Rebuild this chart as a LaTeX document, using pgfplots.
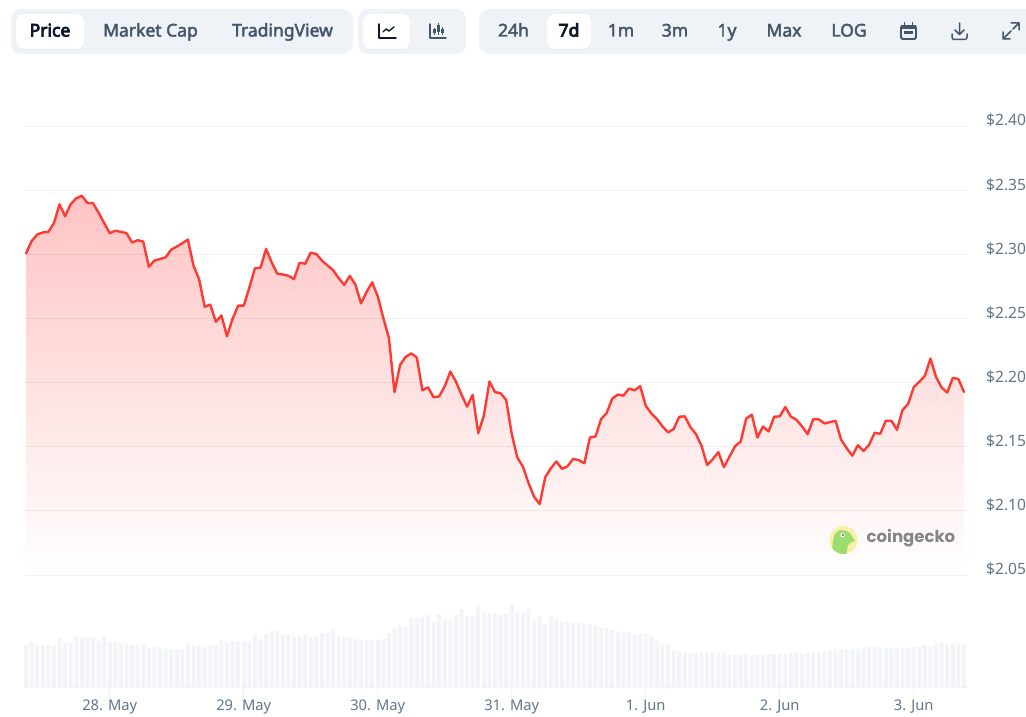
\documentclass[border=0pt]{standalone}
\usepackage{fontspec}
\usepackage{pgfplots}
\usepackage{pgfplotstable}
\pgfplotsset{compat=1.18}
\setmainfont{Noto Sans}
\newfontfamily\medfont[FakeBold=2.5]{Noto Sans}
\newfontfamily\semifont[FakeBold=4.5]{Noto Sans}
\newfontfamily\logofont{Poppins}
\definecolor{gridc}{HTML}{F1F3F6}
\definecolor{panel}{HTML}{EFF2F7}
\definecolor{labelc}{HTML}{64748B}
\definecolor{tabc}{HTML}{475569}
\definecolor{dark}{HTML}{0F172A}
\definecolor{linec}{HTML}{FF3A33}
\definecolor{fillc}{HTML}{FFC4C4}
\definecolor{barc}{HTML}{F2F4F7}
\definecolor{logoy}{HTML}{FBEFA8}
\definecolor{logog}{HTML}{9BDD6E}
\pgfplotstableread{
i price vol
0 2.3010 126
1 2.3105 137
2 2.3157 126
3 2.3173 126
4 2.3178 126
5 2.3246 126
6 2.3393 148
7 2.3299 133
8 2.3393 133
9 2.3440 152
10 2.3459 148
11 2.3403 148
12 2.3401 148
13 2.3328 137
14 2.3246 152
15 2.3168 137
16 2.3186 137
17 2.3178 133
18 2.3168 129
19 2.3094 126
20 2.3113 126
21 2.3102 129
22 2.2906 118
23 2.2953 122
24 2.2966 118
25 2.2979 114
26 2.3039 114
27 2.3063 114
28 2.3089 114
29 2.3118 129
30 2.2914 122
31 2.2809 126
32 2.2594 118
33 2.2610 122
34 2.2476 126
35 2.2526 141
36 2.2363 133
37 2.2500 137
38 2.2602 137
39 2.2602 137
40 2.2743 137
41 2.2893 156
42 2.2898 144
43 2.3045 160
44 2.2940 167
45 2.2851 171
46 2.2845 156
47 2.2835 156
48 2.2809 152
49 2.2937 156
50 2.2929 156
51 2.3016 152
52 2.3005 152
53 2.2953 160
54 2.2916 160
55 2.2879 174
56 2.2817 152
57 2.2764 148
58 2.2834 148
59 2.2766 144
60 2.2620 141
61 2.2709 141
62 2.2784 141
63 2.2675 141
64 2.2505 144
65 2.2349 160
66 2.1928 178
67 2.2140 186
68 2.2202 182
69 2.2229 208
70 2.2197 208
71 2.1941 212
72 2.1965 216
73 2.1887 197
74 2.1894 219
75 2.1973 204
76 2.2088 204
77 2.2009 216
78 2.1908 234
79 2.1814 212
80 2.1905 212
81 2.1607 246
82 2.1743 223
83 2.2009 223
84 2.1928 223
85 2.1918 219
86 2.1866 219
87 2.1600 249
88 2.1417 227
89 2.1346 223
90 2.1218 234
91 2.1111 201
92 2.1054 212
93 2.1263 189
94 2.1333 212
95 2.1386 204
96 2.1328 197
97 2.1349 197
98 2.1406 193
99 2.1396 193
100 2.1372 189
101 2.1573 189
102 2.1581 186
103 2.1717 178
104 2.1764 178
105 2.1876 171
106 2.1908 167
107 2.1900 163
108 2.1955 163
109 2.1941 156
110 2.1973 160
111 2.1821 160
112 2.1761 152
113 2.1717 141
114 2.1660 129
115 2.1613 126
116 2.1639 111
117 2.1735 107
118 2.1738 103
119 2.1654 99
120 2.1599 103
121 2.1507 103
122 2.1358 103
123 2.1403 103
124 2.1458 103
125 2.1342 103
126 2.1424 96
127 2.1505 99
128 2.1541 99
129 2.1722 99
130 2.1751 96
131 2.1573 99
132 2.1659 99
133 2.1620 99
134 2.1735 99
135 2.1738 99
136 2.1811 99
137 2.1735 103
138 2.1712 103
139 2.1659 99
140 2.1599 103
141 2.1717 103
142 2.1714 103
143 2.1683 107
144 2.1693 111
145 2.1704 114
146 2.1555 111
147 2.1489 114
148 2.1431 114
149 2.1513 114
150 2.1468 118
151 2.1515 122
152 2.1610 122
153 2.1602 118
154 2.1704 118
155 2.1704 118
156 2.1633 118
157 2.1788 118
158 2.1835 118
159 2.1966 122
160 2.2008 122
161 2.2055 126
162 2.2189 122
163 2.2045 129
164 2.1963 133
165 2.1924 126
166 2.2039 133
167 2.2029 129
168 2.1929 126
}\datatable
\newcommand{\tab}[3]{\node[text=#3,inner sep=0pt] at (#1,32.5) {\fontsize{17.5}{20}\selectfont\medfont\strut #2};}
\newcommand{\tabd}[3]{\node[text=#3,inner sep=0pt] at (#1,32.5) {\fontsize{17.5}{20}\selectfont\semifont\strut #2};}
\begin{document}
\begin{tikzpicture}[x=1pt,y=1pt]
\path[use as bounding box] (0,0) rectangle (1026,716);
% volume axis
\begin{axis}[at={(24pt,29pt)},anchor=south west,scale only axis,width=944pt,height=100pt,
  xmin=-0.36,xmax=168.72,ymin=0,ymax=300,
  axis y line=none,axis x line=bottom,
  x axis line style={draw=gridc,line width=1pt,-},
  ytick=\empty,
  xtick={15,39,63,87,111,135,159},
  xticklabels={28. May,29. May,30. May,31. May,1. Jun,2. Jun,3. Jun},
  tick align=outside,major tick length=11pt,
  x tick style={draw=gridc,line width=1pt},
  x tick label style={text=labelc,font=\fontsize{14.7}{16}\selectfont,yshift=-1.5pt,inner sep=0pt,anchor=north},
  clip=false]
\addplot[ybar,bar width=4pt,fill=barc,draw=none,bar shift=0pt] table[x=i,y=vol]{\datatable};
\end{axis}
% price axis
\begin{axis}[at={(24pt,141pt)},anchor=south west,scale only axis,width=944pt,height=448.5pt,
  xmin=-0.36,xmax=168.72,ymin=2.05,ymax=2.40,
  axis line style={draw=none},axis on top,
  xtick=\empty,
  ytick={2.05,2.10,2.15,2.20,2.25,2.30,2.35,2.40},
  yticklabels={\$2.05,\$2.10,\$2.15,\$2.20,\$2.25,\$2.30,\$2.35,\$2.40},
  ymajorgrids,
  grid style={draw=black,draw opacity=0.055,line width=1pt},
  major tick length=0pt,
  ticklabel pos=right,
  y tick label style={text=labelc,font=\fontsize{15.6}{17}\selectfont,anchor=west,inner sep=0pt,xshift=18pt,yshift=6pt}]
\addplot[draw=none,top color=fillc,bottom color=white] table[x=i,y=price]{\datatable} \closedcycle;
\addplot[color=linec,line width=2.4pt,line join=round,line cap=round] table[x=i,y=price]{\datatable};
\end{axis}
% toolbar and logo (pixel coordinates, y downwards)
\begin{scope}[shift={(0,716)},y=-1pt]
\fill[panel,rounded corners=10pt] (11,9) rectangle (353,54);
\fill[panel,rounded corners=10pt] (358,9) rectangle (466,54);
\fill[panel,rounded corners=10pt] (479,9) rectangle (1040,54);
\fill[black!8,rounded corners=8pt] (16,15) rectangle (84,50);
\fill[white,rounded corners=8pt] (16,14) rectangle (84,49);
\fill[black!8,rounded corners=8pt] (363,15) rectangle (410,50);
\fill[white,rounded corners=8pt] (363,14) rectangle (410,49);
\fill[black!8,rounded corners=8pt] (547,15) rectangle (591,50);
\fill[white,rounded corners=8pt] (547,14) rectangle (591,49);
\tabd{50}{Price}{dark}
\tab{150.5}{Market Cap}{tabc}
\tab{282.5}{TradingView}{tabc}
\tab{513.5}{24h}{tabc}
\tabd{569}{7d}{dark}
\tab{621}{1m}{tabc}
\tab{675}{3m}{tabc}
\tab{727}{1y}{tabc}
\tab{784}{Max}{tabc}
\tab{849}{LOG}{tabc}
% line icon
\draw[dark,line width=1.4pt,line cap=round,line join=round] (379,24) -- (379,38) -- (396,38);
\draw[dark,line width=1.4pt,line cap=round,line join=round] (383,32) -- (386,29) -- (389,31) -- (394,27);
% candle icon
\draw[tabc,line width=1.4pt,line cap=round,line join=round] (430,24) -- (430,38) -- (446,38);
\foreach \x/\a/\b/\c/\d in {434/28/35/29/33,438/23/35/25/32,442/27/35/29/33}{
  \draw[tabc,line width=1pt] (\x,\a) -- (\x,\b);
  \fill[tabc] (\x-1.5,\c) rectangle (\x+1.5,\d);}
% calendar
\draw[tabc,line width=1.8pt,rounded corners=1.5pt] (901,26) rectangle (916,39);
\fill[tabc] (901,25) rectangle (916,29);
\draw[tabc,line width=1.6pt] (904.5,22.5) -- (904.5,26) (912.5,22.5) -- (912.5,26);
\fill[tabc] (904,31) rectangle (913,34);
% download
\draw[tabc,line width=1.5pt,line cap=round,line join=round] (959.5,23) -- (959.5,34) (955,30) -- (959.5,34.5) -- (964,30);
\draw[tabc,line width=1.5pt,line cap=round,line join=round] (952,34) -- (952,37) to[out=-90,in=180] (954,39.5) -- (965,39.5) to[out=0,in=-90] (967,37) -- (967,34);
% expand
\draw[tabc,line width=1.5pt,line cap=round,line join=round] (1003,32) -- (1003,39) -- (1010,39) (1003,39) -- (1011,31);
\draw[tabc,line width=1.5pt,line cap=round,line join=round] (1011,23) -- (1019,23) -- (1019,30) (1019,23) -- (1013,29);
% logo
\fill[logoy] (843.5,540) circle (14);
\begin{scope}
\clip (843.5,540) circle (14);
\fill[logog] (832,552) to[out=85,in=180] (842,530) to[out=0,in=150] (850,533) -- (855,541) to[out=200,in=60] (848,545) -- (846,556) -- (832,556) -- cycle;
\end{scope}
\fill[white] (842.5,535) circle (2.2);
\fill[black!60] (843,535) circle (1.1);
\node[anchor=west,inner sep=0pt,text=black!48] at (866.5,538) {\fontsize{16.5}{18}\selectfont\logofont\bfseries coingecko};
\end{scope}
\end{tikzpicture}
\end{document}
